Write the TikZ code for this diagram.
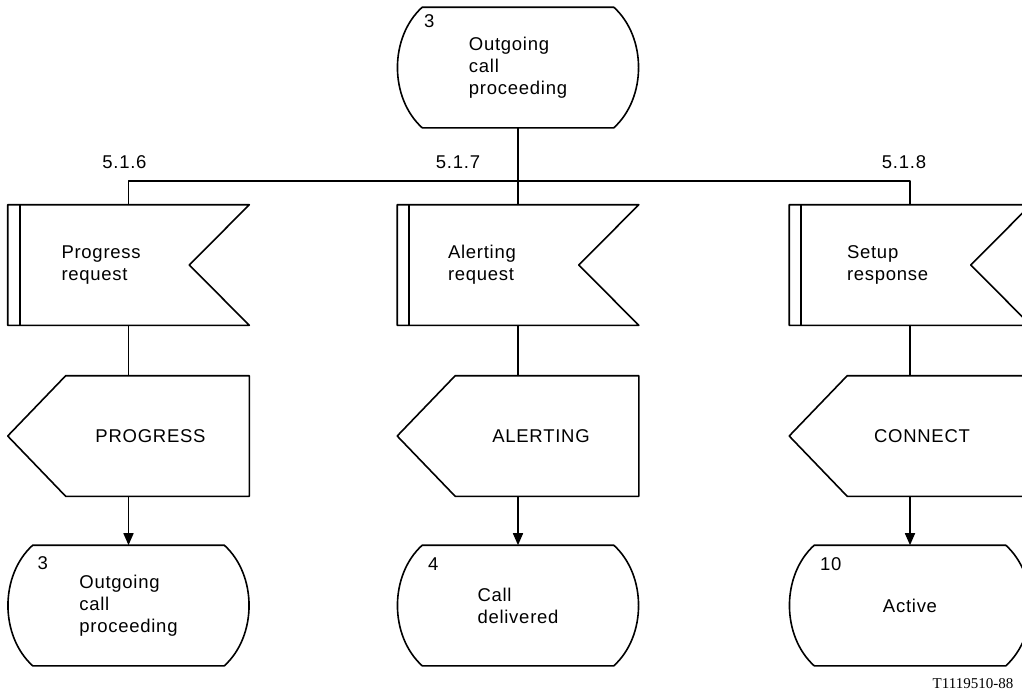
\documentclass[tikz,border=0pt]{standalone}
\usepackage{fontspec}
\setmainfont{Liberation Sans}[LetterSpace=4]
\newfontfamily\tagfont{Liberation Serif}
\usetikzlibrary{positioning,arrows.meta}

\tikzset{
  box/.style={minimum width=240pt, minimum height=119pt, inner sep=0pt, align=left},
  txt/.style={inner sep=0pt, align=left},
  num/.style={inner sep=0pt, anchor=north west},
}

% outlines drawn round a box node
\newcommand{\stateshape}[1]{%
  \draw ([xshift=25pt]#1.north west) -- ([xshift=-25pt]#1.north east)
    .. controls ([xshift=8pt,yshift=-30pt]#1.north east) and ([xshift=8pt,yshift=30pt]#1.south east) .. ([xshift=-25pt]#1.south east)
    -- ([xshift=25pt]#1.south west)
    .. controls ([xshift=-8pt,yshift=30pt]#1.south west) and ([xshift=-8pt,yshift=-30pt]#1.north west) .. cycle;}
\newcommand{\inshape}[1]{%
  \draw (#1.north west) -- (#1.north east) -- ([xshift=-60pt]#1.east) -- (#1.south east) -- (#1.south west) -- cycle;
  \draw ([xshift=12pt]#1.north west) -- ([xshift=12pt]#1.south west);}
\newcommand{\outshape}[1]{%
  \draw (#1.west) -- ([xshift=58pt]#1.north west) -- (#1.north east) -- (#1.south east) -- ([xshift=58pt]#1.south west) -- cycle;}

\begin{document}
\begin{tikzpicture}[x=1pt, y=-1pt, line width=1.6pt, line join=round, >={Triangle[length=12pt,width=10pt]}, font=\fontsize{18.5}{22}\selectfont]
  \clip (0,0) rectangle (1022,697);

  % state at the top
  \node[box] (st0) at (518,67.5) {Outgoing\\call\\proceeding};
  \stateshape{st0}
  \node[num] (n0) at ([xshift=26pt,yshift=-7pt]st0.north west) {3};

  % input signals
  \node[box] (in1) at (128.5,265) {};
  \node[box] (in2) at (518,265) {};
  \node[box] (in3) at (910,265) {};
  \inshape{in1}
  \inshape{in2}
  \inshape{in3}
  \node[txt, anchor=west] (i1) at ([xshift=53pt]in1.west) {Progress\\request};
  \node[txt, anchor=west] (i2) at ([xshift=50pt]in2.west) {Alerting\\request};
  \node[txt, anchor=west] (i3) at ([xshift=57pt]in3.west) {Setup\\response};

  % output signals
  \node[box] (out1) at (128.5,436) {};
  \node[box] (out2) at (518,436) {};
  \node[box] (out3) at (910,436) {};
  \outshape{out1}
  \outshape{out2}
  \outshape{out3}
  \node[txt] (o1) at ([xshift=22pt]out1.center) {PROGRESS};
  \node[txt] (o2) at ([xshift=23pt]out2.center) {ALERTING};
  \node[txt] (o3) at ([xshift=12pt]out3.center) {CONNECT};

  % next states
  \node[box] (st1) at (128.5,605.5) {Outgoing\\call\\proceeding};
  \node[box] (st2) at (518,605.5) {Call\\delivered};
  \node[box] (st3) at (910,605.5) {Active};
  \stateshape{st1}
  \stateshape{st2}
  \stateshape{st3}
  \node[num] (n1) at ([xshift=29pt,yshift=-11pt]st1.north west) {3};
  \node[num] (n2) at ([xshift=30pt,yshift=-12pt]st2.north west) {4};
  \node[num] (n3) at ([xshift=30pt,yshift=-12pt]st3.north west) {10};

  % connectors
  \coordinate (bar) at (518,181);
  \draw (st0.south) -- (in2.north);
  \draw (in1.north) |- (bar) -| (in3.north);
  \draw (in1.south) -- (out1.north);
  \draw (in2.south) -- (out2.north);
  \draw (in3.south) -- (out3.north);
  \draw[->] (out1.south) -- (st1.north);
  \draw[->] (out2.south) -- (st2.north);
  \draw[->] (out3.south) -- (st3.north);

  % clause numbers
  \coordinate (b1) at (in1.north |- bar);
  \coordinate (b3) at (in3.north |- bar);
  \node[txt, above=12pt of b1, xshift=-4pt] (r1) {5.1.6};
  \node[txt, above=12pt of bar, xshift=-60pt] (r2) {5.1.7};
  \node[txt, above=12pt of b3, xshift=-6pt] (r3) {5.1.8};

  \node[txt, font=\tagfont\fontsize{15}{18}\selectfont] (tag) at (973,684) {T1119510-88};
\end{tikzpicture}
\end{document}
